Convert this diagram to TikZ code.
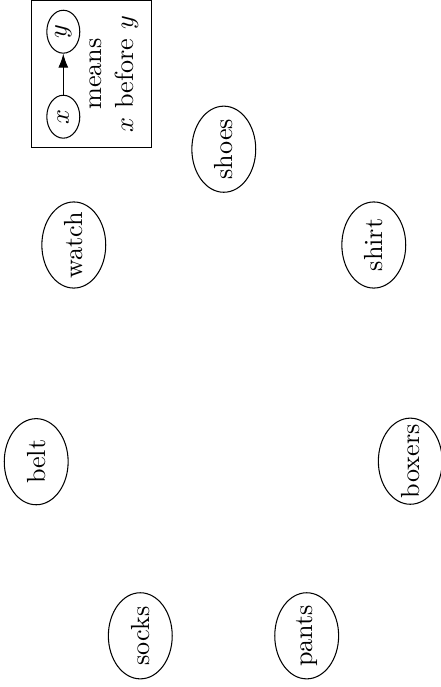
\documentclass[tikz,border=0pt]{standalone}
\usetikzlibrary{shapes.geometric,arrows.meta}
\begin{document}
\begin{tikzpicture}[x=0.382pt,y=-0.382pt,
  item/.style={ellipse,draw,inner sep=0pt,minimum width=32.9pt,minimum height=24.4pt,rotate=90},
  keynode/.style={ellipse,draw,inner sep=0pt,minimum width=16.4pt,minimum height=12.6pt,rotate=90},
  keytext/.style={align=center,rotate=90,inner sep=0pt},
  keyarrow/.style={-{Latex[length=5.3pt,width=3.8pt]}}]
\useasboundingbox (0,0) rectangle (441,687);
% legend
\draw (31.7,0.4) rectangle (151.7,147.8);
\node[keynode] (kx) at (63.3,116.7) {\makebox[0pt]{$x$}};
\node[keynode] (ky) at (63.3,31.7) {\makebox[0pt]{$y$}};
\draw[keyarrow] (kx) -- (ky);
\node[keytext] (kt) at (114,74) {means\\$x$ before $y$};
% items
\node[item] (shoes) at (223.8,149.2) {\makebox[0pt]{shoes}};
\node[item] (watch) at (73.8,245) {\makebox[0pt]{watch}};
\node[item] (shirt) at (373.8,245) {\makebox[0pt]{shirt}};
\node[item] (belt) at (36.2,461.7) {\makebox[0pt]{belt}};
\node[item] (boxers) at (410.3,461.2) {\makebox[0pt]{boxers}};
\node[item] (socks) at (140.3,635.8) {\makebox[0pt]{socks}};
\node[item] (pants) at (306.7,635.8) {\makebox[0pt]{pants}};
\end{tikzpicture}
\end{document}
